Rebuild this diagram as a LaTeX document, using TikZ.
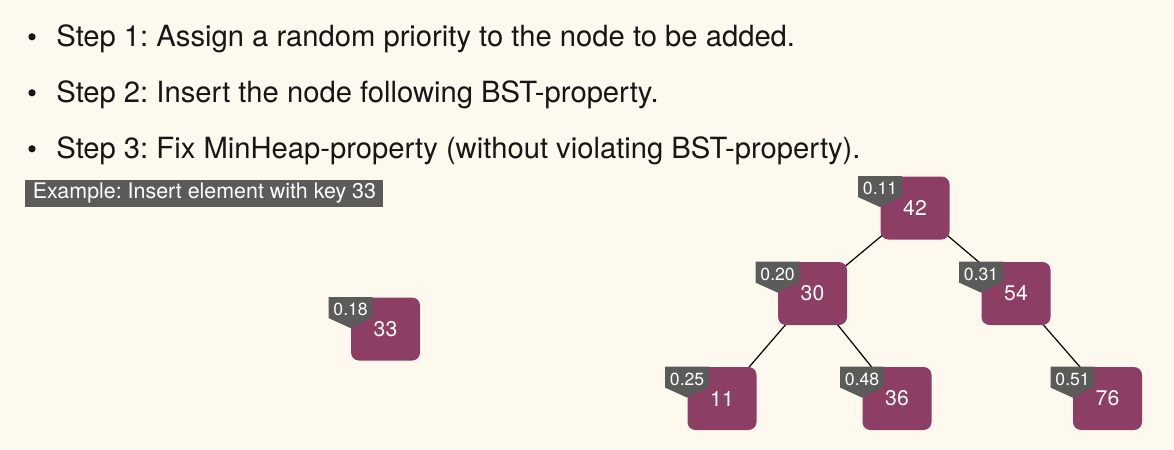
\documentclass[tikz,border=0pt]{standalone}
\usepackage{fontspec}
\setmainfont{TeX Gyre Heros}
\usetikzlibrary{positioning}
\pgfdeclarelayer{background}
\pgfsetlayers{background,main}
\frenchspacing

\definecolor{paper}{HTML}{FDF9EF}
\definecolor{ink}{HTML}{161616}
\definecolor{treap}{HTML}{8C3E64}
\definecolor{tagfill}{HTML}{5B5B59}

\tikzset{
  steptext/.style={anchor=base west, inner sep=0pt, text=ink,
    font=\fontsize{14.6}{17}\selectfont},
  keybox/.style={rectangle, rounded corners=4pt, fill=treap, text=white,
    minimum width=34.5pt, minimum height=31.5pt, inner sep=0pt,
    font=\fontsize{10.6}{12}\selectfont},
  tagtext/.style={text=white, inner sep=0pt, font=\fontsize{8.8}{10}\selectfont},
  examplebox/.style={fill=tagfill, text=white, anchor=west, inner sep=0pt,
    minimum width=179pt, minimum height=13.5pt, font=\fontsize{10.7}{12}\selectfont},
  treeedge/.style={draw=black, line width=0.6pt}
}

% priority tag at the top left corner of a key box
\newcommand{\prio}[2]{%
  \fill[tagfill] ([xshift=-11pt]n#1.north west) -- ([xshift=11pt]n#1.north west)
    -- ([xshift=11pt,yshift=-10pt]n#1.north west) -- ([yshift=-15.5pt]n#1.north west)
    -- ([xshift=-11pt,yshift=-10.5pt]n#1.north west) -- cycle;
  \node[tagtext] (p#1) at ([yshift=-6.3pt]n#1.north west) {#2};
}

\begin{document}
\begin{tikzpicture}[x=0.5pt,y=-0.5pt]
\begin{pgfonlayer}{background}
\fill[paper] (0,0) rectangle (1174,450);
\end{pgfonlayer}
\useasboundingbox (0,0) rectangle (1174,450);

%the three steps
\node[steptext] (step1) at (56,46) {Step 1: Assign a random priority to the node to be added.};
\node[steptext] (step2) at (56,102) {Step 2: Insert the node following BST-property.};
\node[steptext] (step3) at (56,158) {Step 3: Fix MinHeap-property (without violating BST-property).};
\fill[ink] ([xshift=-12pt,yshift=4.6pt]step1.base west) circle (1.8pt);
\fill[ink] ([xshift=-12pt,yshift=4.6pt]step2.base west) circle (1.8pt);
\fill[ink] ([xshift=-12pt,yshift=4.6pt]step3.base west) circle (1.8pt);

\node[examplebox] (example) at (25,193.5) {Example: Insert element with key 33};

%new element
\node[keybox] (n33) at (385.5,329) {33};

%the treap
\node[keybox] (n42) at (915,208) {42};
\node[keybox] (n30) at (812.5,293.5) {30};
\node[keybox] (n54) at (1016,293.5) {54};
\node[keybox] (n11) at (722,398.5) {11};
\node[keybox] (n36) at (897,398.5) {36};
\node[keybox] (n76) at (1107.5,398.5) {76};

\begin{pgfonlayer}{background}
\draw[treeedge] (n42.center) -- (n30.center);
\draw[treeedge] (n42.center) -- (n54.center);
\draw[treeedge] (n30.center) -- (n11.center);
\draw[treeedge] (n30.center) -- (n36.center);
\draw[treeedge] (n54.center) -- (n76.center);
\end{pgfonlayer}

%priorities
\prio{33}{0.18}
\prio{42}{0.11}
\prio{30}{0.20}
\prio{54}{0.31}
\prio{11}{0.25}
\prio{36}{0.48}
\prio{76}{0.51}
\end{tikzpicture}
\end{document}
